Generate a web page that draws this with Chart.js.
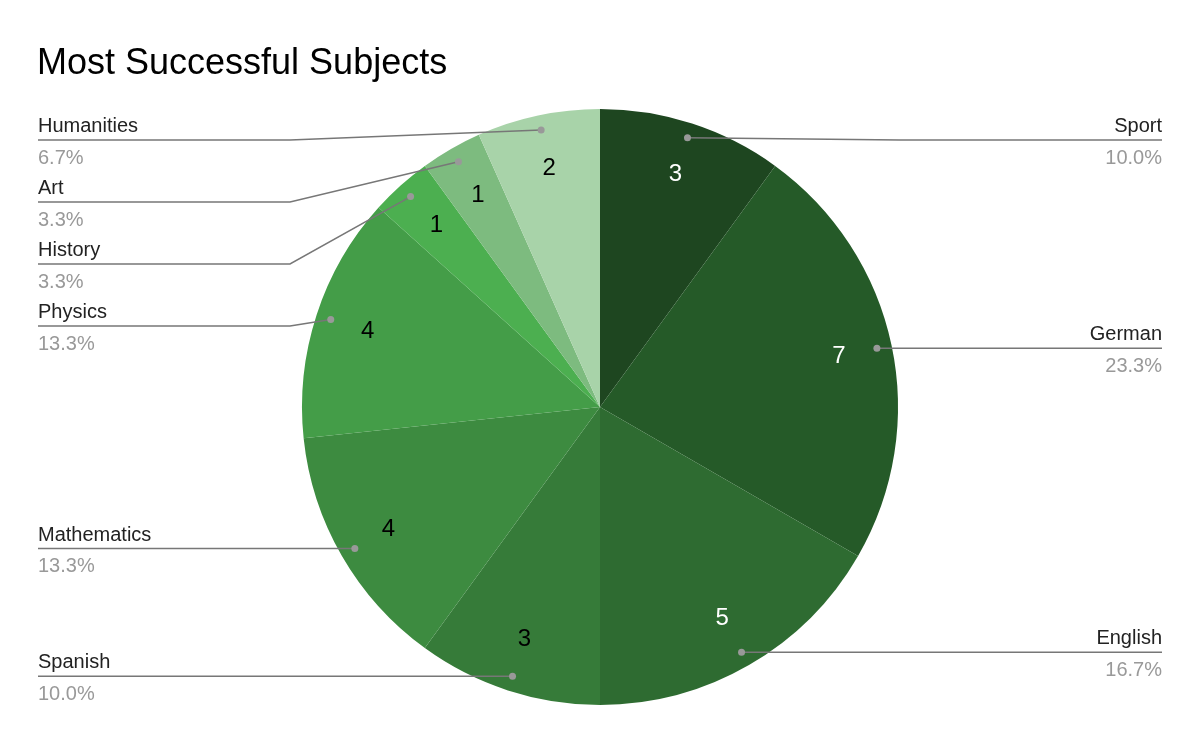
<!DOCTYPE html>
<html lang="en">
<head>
<meta charset="UTF-8">
<title>Most Successful Subjects</title>
<style>
  body { margin: 0; background: #fff; }
  #wrap { width: 1200px; height: 742px; position: relative; }
</style>
</head>
<body>
<div id="wrap"><canvas id="pie"></canvas></div>
<script src="https://cdn.jsdelivr.net/npm/chart.js"></script>
<script>
const subjects = ['Sport', 'German', 'English', 'Spanish', 'Mathematics', 'Physics', 'History', 'Art', 'Humanities'];
const counts = [3, 7, 5, 3, 4, 4, 1, 1, 2];
const colors = ['#1e4620', '#255a28', '#2e6b31', '#367b39', '#3d8b40', '#449d48', '#4caf50', '#7dbb7f', '#a8d3a9'];
const valueColors = ['#fff', '#fff', '#fff', '#000', '#000', '#000', '#000', '#000', '#000'];

const FONT = '"Liberation Sans", Arial, sans-serif';
const total = counts.reduce((a, b) => a + b, 0);

const calloutPlugin = {
  id: 'callouts',
  afterDraw(chart) {
    const ctx = chart.ctx;
    const arcs = chart.getDatasetMeta(0).data;
    ctx.save();
    // title
    ctx.fillStyle = '#000';
    ctx.font = '36px ' + FONT;
    ctx.textBaseline = 'alphabetic';
    ctx.textAlign = 'left';
    ctx.fillText('Most Successful Subjects', 37, 74);

    const items = arcs.map((a, i) => {
      const mid = (a.startAngle + a.endAngle) / 2;
      const r = a.outerRadius;
      return {
        i, mid,
        dx: a.x + Math.cos(mid) * r * 0.95,
        dy: a.y + Math.sin(mid) * r * 0.95,
        vx: a.x + Math.cos(mid) * r * 0.82,
        vy: a.y + Math.sin(mid) * r * 0.82,
        right: Math.cos(mid) > 0
      };
    });

    // value labels
    ctx.font = '24px ' + FONT;
    ctx.textAlign = 'center';
    ctx.textBaseline = 'middle';
    items.forEach(it => {
      ctx.fillStyle = valueColors[it.i];
      ctx.fillText(String(counts[it.i]), it.vx, it.vy);
    });

    // spread label lines on each side
    [true, false].forEach(side => {
      const list = items.filter(it => it.right === side).sort((a, b) => a.dy - b.dy);
      let prev = -Infinity;
      list.forEach(it => {
        it.ly = Math.max(it.dy, prev + 62, 140);
        prev = it.ly;
      });
    });

    items.forEach(it => {
      const elbowX = it.right ? 900 : 290;
      const edgeX = it.right ? 1162 : 38;
      ctx.strokeStyle = '#777';
      ctx.lineWidth = 1.5;
      ctx.beginPath();
      ctx.moveTo(it.dx, it.dy);
      ctx.lineTo(elbowX, it.ly);
      ctx.lineTo(edgeX, it.ly);
      ctx.stroke();
      ctx.fillStyle = '#999';
      ctx.beginPath();
      ctx.arc(it.dx, it.dy, 3.5, 0, Math.PI * 2);
      ctx.fill();

      ctx.textAlign = it.right ? 'right' : 'left';
      ctx.font = '20px ' + FONT;
      ctx.textBaseline = 'alphabetic';
      ctx.fillStyle = '#222';
      ctx.fillText(subjects[it.i], edgeX, it.ly - 8);
      ctx.fillStyle = '#999';
      ctx.textBaseline = 'top';
      ctx.fillText((counts[it.i] / total * 100).toFixed(1) + '%', edgeX, it.ly + 8);
    });
    ctx.restore();
  }
};

new Chart(document.getElementById('pie'), {
  type: 'pie',
  data: {
    labels: subjects,
    datasets: [{ data: counts, backgroundColor: colors, borderWidth: 0 }]
  },
  options: {
    responsive: true,
    maintainAspectRatio: false,
    animation: false,
    layout: { padding: { top: 109, bottom: 37 } },
    plugins: { legend: { display: false }, tooltip: { enabled: false } }
  },
  plugins: [calloutPlugin]
});
</script>
</body>
</html>
